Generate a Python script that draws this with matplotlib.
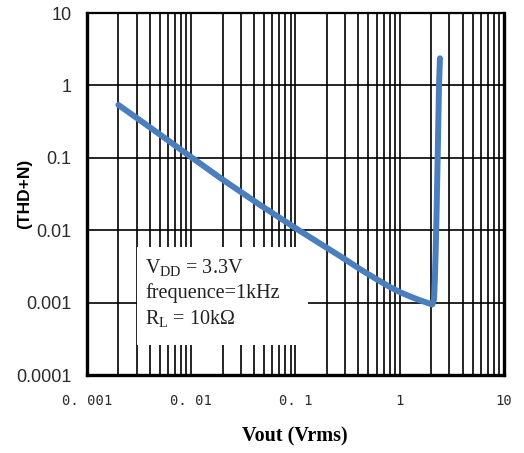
import matplotlib
matplotlib.use('Agg')
import matplotlib.pyplot as plt
import numpy as np
from matplotlib.ticker import FixedLocator, NullFormatter
from matplotlib.patches import Rectangle

# THD+N vs output voltage
vout = [0.002, 0.003, 0.005, 0.0102, 0.02, 0.0457, 0.103, 0.2, 0.267, 0.416, 0.6, 0.8,
        1.0, 1.25, 1.5, 1.85, 2.05, 2.13, 2.17, 2.21, 2.26, 2.31, 2.38, 2.43]
thd = [0.537, 0.355, 0.21, 0.1, 0.05, 0.0223, 0.0104, 0.0057, 0.0044, 0.0029, 0.0021, 0.00165,
       0.0014, 0.00122, 0.0011, 0.00099, 0.00094, 0.0011, 0.002, 0.005, 0.02, 0.1, 1.0, 2.37]

xticks = [0.001, 0.01, 0.1, 1, 10]
xtick_labels = ['0. 001', '0. 01', '0. 1', '1', '10']
yticks = [0.0001, 0.001, 0.01, 0.1, 1, 10]
ytick_labels = ['0.0001', '0.001', '0.01', '0.1', '1', '10']
notes = [r'V$_{\mathrm{DD}}$ = 3.3V', 'frequence=1kHz', r'R$_{\mathrm{L}}$ = 10k$\Omega$']

plt.rcParams['mathtext.fontset'] = 'custom'
plt.rcParams['mathtext.rm'] = 'Liberation Serif'
plt.rcParams['mathtext.it'] = 'Liberation Serif:italic'

fig = plt.figure(figsize=(5.24, 4.53), dpi=100)
ax = fig.add_axes([87/524, 78/453, 417/524, 362/453])

ax.set_xscale('log')
ax.set_yscale('log')
ax.set_xlim(0.001, 10)
ax.set_ylim(0.0001, 10)

ax.xaxis.set_major_locator(FixedLocator(xticks))
ax.set_xticklabels(xtick_labels, fontfamily='DejaVu Sans Mono', fontsize=10, color='#2a2a2a')
minors = [m * d for d in xticks[:-1] for m in range(2, 10)]
ax.xaxis.set_minor_locator(FixedLocator(minors))
ax.xaxis.set_minor_formatter(NullFormatter())
ax.yaxis.set_major_locator(FixedLocator(yticks))
ax.yaxis.set_minor_locator(FixedLocator([]))
ax.set_yticklabels(ytick_labels, fontfamily='Liberation Sans', fontsize=13, color='#2a2a2a')

ax.tick_params(which='both', length=0)
ax.tick_params(axis='x', pad=14)
ax.tick_params(axis='y', pad=11)

ax.set_axisbelow(True)
ax.grid(True, axis='x', which='both', color='black', lw=1.2)
ax.grid(True, axis='y', which='major', color='black', lw=1.2)

for s in ['left', 'bottom', 'right']:
    ax.spines[s].set_linewidth(2.4)
ax.spines['top'].set_linewidth(1.6)

# white label box over the grid
ax.add_patch(Rectangle((0.12, 0.083), 0.41, 0.271, transform=ax.transAxes,
                       facecolor='white', edgecolor='none', zorder=1.5))
for i, t in enumerate(notes):
    ax.text(0.139, 0.298 - i * 0.0705, t, transform=ax.transAxes, va='center', ha='left',
            fontfamily='Liberation Serif', fontsize=14.5, color='#222222', zorder=2)

ax.plot(vout, thd, color='#4a7ebf', lw=4.3, solid_joinstyle='round',
        solid_capstyle='round', zorder=3)

fig.text(295/524, 1 - 436/453, 'Vout (Vrms)', ha='center', va='center',
         fontfamily='Liberation Serif', fontweight='bold', fontsize=14.5)
fig.text(25/524, 1 - 194/453, '(THD+N)', ha='center', va='center', rotation=90,
         fontfamily='Liberation Sans', fontweight='bold', fontsize=12.5)

fig.savefig('out.png', dpi=100)
